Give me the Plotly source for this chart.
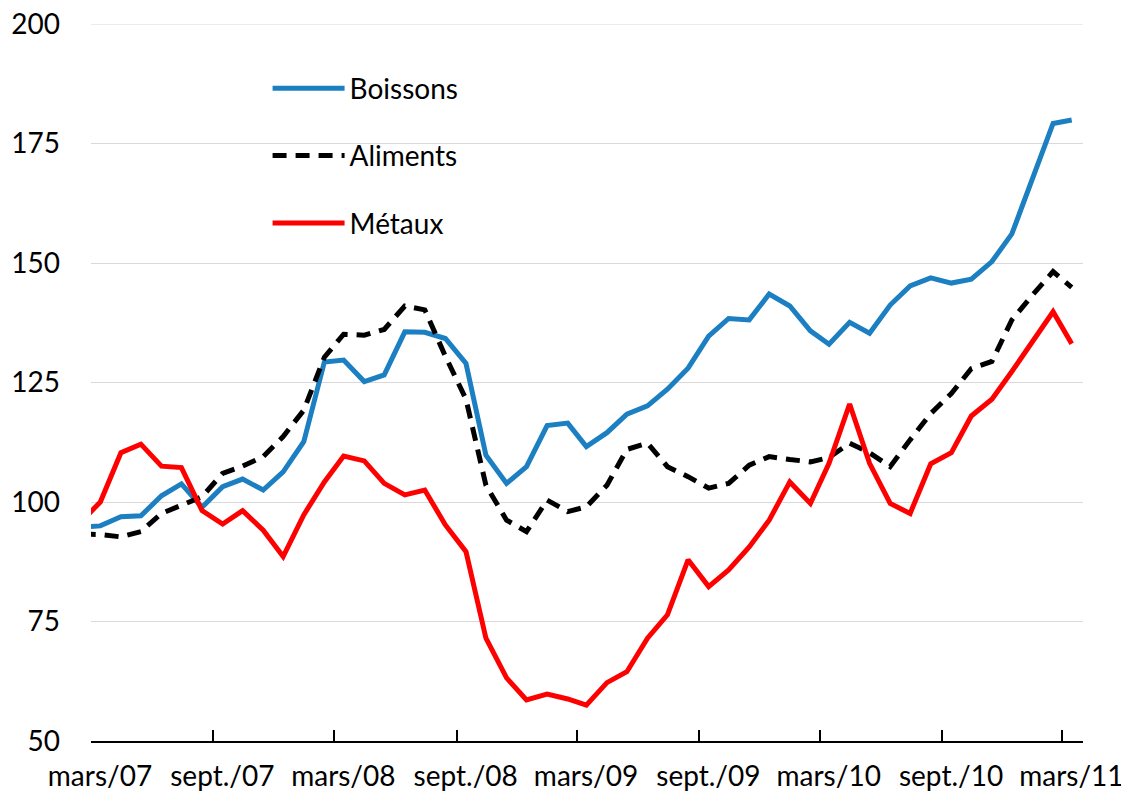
import pandas as pd
import plotly.graph_objects as go

# Monthly data, Feb 2007 .. Mar 2011 (plotted mid-month)
months = (pd.date_range("2007-02-01", periods=50, freq="MS") + pd.Timedelta(days=14)).strftime("%Y-%m-%d").tolist()

boissons = [94.8, 95.0, 96.9, 97.1, 101.3, 103.8, 98.9, 103.2, 104.8, 102.5,
            106.3, 112.6, 129.3, 129.7, 125.2, 126.6, 135.6, 135.5, 134.2, 129.0,
            109.8, 103.9, 107.4, 116.0, 116.5, 111.6, 114.5, 118.4, 120.1, 123.6,
            128.0, 134.7, 138.4, 138.1, 143.5, 141.0, 135.8, 133.0, 137.6, 135.3,
            141.2, 145.2, 146.9, 145.8, 146.6, 150.3, 156.1, 167.4, 179.2, 179.9]

aliments = [93.3, 93.2, 92.7, 93.8, 97.6, 99.4, 101.1, 106.0, 107.5, 109.5,
            113.7, 119.2, 130.3, 135.1, 134.9, 136.1, 141.0, 140.2, 130.5, 121.5,
            103.5, 96.2, 93.8, 100.4, 98.0, 99.0, 103.5, 111.0, 112.3, 107.4,
            105.3, 102.9, 103.9, 107.7, 109.5, 108.9, 108.4, 109.3, 112.3, 110.3,
            107.4, 113.0, 118.5, 122.7, 127.9, 129.4, 138.1, 143.3, 148.2, 144.9]

metaux = [96.0, 100.0, 110.3, 112.1, 107.5, 107.2, 98.2, 95.4, 98.2, 94.1,
          88.6, 97.3, 104.2, 109.6, 108.6, 103.9, 101.5, 102.5, 95.2, 89.6,
          71.5, 63.2, 58.6, 59.8, 58.8, 57.5, 62.2, 64.5, 71.5, 76.4,
          87.9, 82.3, 85.8, 90.6, 96.2, 104.2, 99.7, 108.1, 120.5, 108.1,
          99.7, 97.6, 108.0, 110.3, 118.0, 121.5, 127.3, 133.5, 139.8, 133.1]

tick_dates = ["2007-03-01", "2007-09-01", "2008-03-01", "2008-09-01", "2009-03-01",
              "2009-09-01", "2010-03-01", "2010-09-01", "2011-03-01"]
tick_labels = ["mars/07", "sept./07", "mars/08", "sept./08", "mars/09",
               "sept./09", "mars/10", "sept./10", "mars/11"]
y_ticks = [50, 75, 100, 125, 150, 175, 200]

FONT = "Lato"
FS = 28

fig = go.Figure()
fig.add_trace(go.Scatter(x=months, y=boissons, name="Boissons", mode="lines",
                         line=dict(color="#1B7FC1", width=5), legendgroup="a"))
fig.add_trace(go.Scatter(x=months, y=aliments, name="Aliments", mode="lines",
                         line=dict(color="#000000", width=5, dash="14px,9px"), legendgroup="b"))
fig.add_trace(go.Scatter(x=months, y=metaux, name="Métaux", mode="lines",
                         line=dict(color="#FF0000", width=5), legendgroup="c"))

# top gridline (at the edge of the plot area)
fig.add_hline(y=y_ticks[-1], line=dict(color="#D9D9D9", width=1), layer="below")

# page body adds an 8px offset, so the figure is 8px smaller than the window
fig.update_layout(
    width=1121, height=791,
    margin=dict(l=83, r=46, t=16, b=58, autoexpand=False),
    paper_bgcolor="white", plot_bgcolor="white",
    font=dict(family=FONT, size=FS, color="#000000"),
    showlegend=True,
    legend=dict(x=0.178, y=0.945, xanchor="left", yanchor="top",
                bgcolor="rgba(0,0,0,0)", font=dict(family=FONT, size=FS),
                itemwidth=72, tracegroupgap=28, traceorder="grouped"),
)
fig.update_xaxes(type="date", range=["2007-03-01", "2011-04-01"], automargin=False,
                 tickmode="array", tickvals=tick_dates, ticktext=tick_labels,
                 ticks="inside", ticklen=11, tickwidth=1.5, tickcolor="#000000",
                 showline=True, linecolor="#000000", linewidth=1.5,
                 showgrid=False, zeroline=False, ticklabelshift=9,
                 ticklabeloverflow="allow",
                 ticklabelstandoff=10, tickfont=dict(family=FONT, size=FS))
fig.update_yaxes(range=[50, 200], tickmode="array", tickvals=y_ticks, automargin=False,
                 showgrid=True, gridcolor="#D9D9D9", gridwidth=1,
                 zeroline=False, showline=False, ticks="",
                 ticklabeloverflow="allow",
                 ticklabelstandoff=30, tickfont=dict(family=FONT, size=FS))

fig.write_html("out.html")
